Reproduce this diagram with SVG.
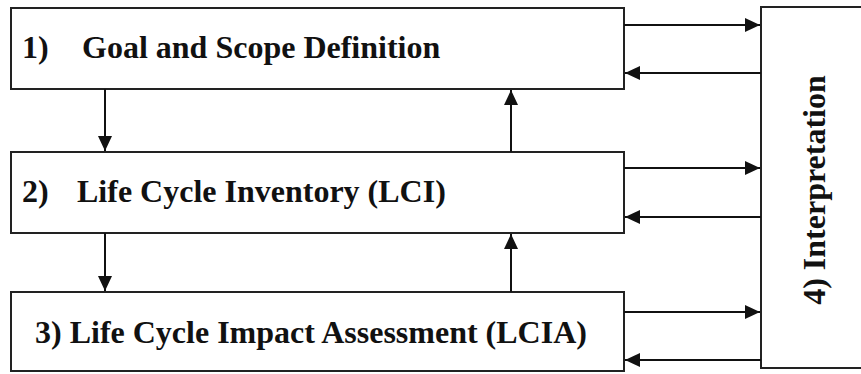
<svg xmlns="http://www.w3.org/2000/svg" width="861" height="374" viewBox="0 0 861 374">
<style>
.box{fill:#fff;stroke:#222;stroke-width:2}
.lbl{font-family:"Liberation Serif","Times New Roman",serif;font-weight:bold;font-size:32px;fill:#111}
.con line{stroke:#111;stroke-width:2;fill:none}
</style>
<defs>
<marker id="ah" markerUnits="userSpaceOnUse" markerWidth="15" markerHeight="14" refX="15" refY="7" orient="auto">
<path d="M0,0 L15,7 L0,14 z" fill="#111"/>
</marker>
</defs>
<rect width="861" height="374" fill="#fff"/>
<g id="n4">
<rect class="box" x="761" y="7" width="130" height="361"/>
<text class="lbl" transform="translate(825,190) rotate(-90)" text-anchor="middle">4) Interpretation</text>
</g>
<g id="n1">
<rect class="box" x="11" y="8" width="613" height="81"/>
<text class="lbl" y="58"><tspan x="22">1)</tspan><tspan x="82">Goal and Scope Definition</tspan></text>
</g>
<g id="n2">
<rect class="box" x="11" y="152" width="613" height="81"/>
<text class="lbl" y="202"><tspan x="22">2)</tspan><tspan x="77">Life Cycle Inventory (LCI)</tspan></text>
</g>
<g id="n3">
<rect class="box" x="11" y="292" width="613" height="79"/>
<text class="lbl" x="35" y="343">3) Life Cycle Impact Assessment (LCIA)</text>
</g>
<g class="con" id="connectors">
<line x1="105" y1="89" x2="105" y2="151" marker-end="url(#ah)"/>
<line x1="105" y1="233" x2="105" y2="291" marker-end="url(#ah)"/>
<line x1="511" y1="152" x2="511" y2="90" marker-end="url(#ah)"/>
<line x1="511" y1="292" x2="511" y2="234" marker-end="url(#ah)"/>
<line x1="624" y1="25" x2="760" y2="25" marker-end="url(#ah)"/>
<line x1="761" y1="73" x2="625" y2="73" marker-end="url(#ah)"/>
<line x1="624" y1="168" x2="760" y2="168" marker-end="url(#ah)"/>
<line x1="761" y1="217" x2="625" y2="217" marker-end="url(#ah)"/>
<line x1="624" y1="312" x2="760" y2="312" marker-end="url(#ah)"/>
<line x1="761" y1="360" x2="625" y2="360" marker-end="url(#ah)"/>
</g>
</svg>
